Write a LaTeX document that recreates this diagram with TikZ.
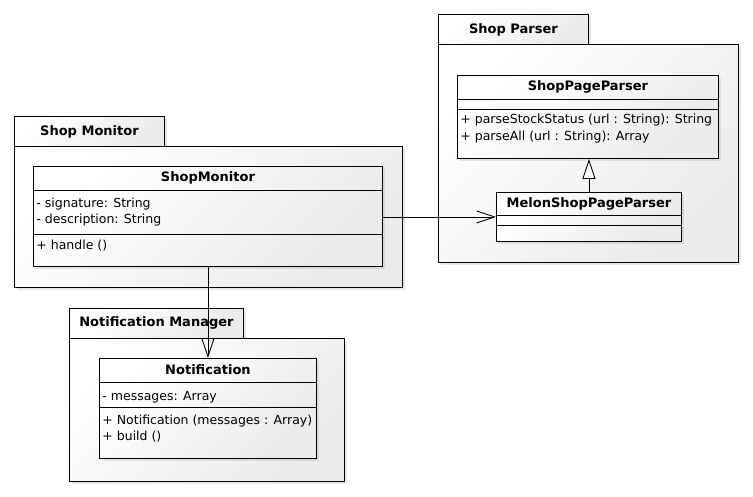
\documentclass[tikz,border=0pt]{standalone}
\usepackage{fontspec}
\setmainfont{DejaVu Sans}
\usetikzlibrary{arrows.meta,shadows}

\begin{document}
\begin{tikzpicture}[x=1pt,y=-1pt,line width=0.9pt,
  font=\fontsize{12.5}{16}\selectfont,
  box/.style n args={2}{draw,minimum width=#1,minimum height=#2,inner sep=0pt,
    anchor=north west,top color=white,bottom color=black!8,shading angle=45,
    drop shadow={shadow xshift=3pt,shadow yshift=-3pt,opacity=0.18}},
  head/.style={font=\fontsize{13}{16}\selectfont\bfseries},
  member/.style={anchor=base west,inner sep=0pt,xshift=3pt},
  dep/.style={-{Straight Barb[length=18pt,width=12pt]}},
  inherit/.style={-{Triangle[open,fill=white,length=20pt,width=13pt]}}]
  \useasboundingbox (0,0) rectangle (753,496);

  % packages
  \node[box={150pt}{30pt},head] (parsertab) at (438,14) {Shop Parser};
  \node[box={300pt}{218pt}] (parserpkg) at (438,44) {};
  \node[box={150pt}{30pt},head] (monitortab) at (14,116) {Shop Monitor};
  \node[box={388pt}{141pt}] (monitorpkg) at (14,146) {};
  \node[box={174pt}{30pt},head] (notiftab) at (69,308) {Notification Manager};
  \node[box={275pt}{143pt}] (notifpkg) at (69,338) {};

  % ShopPageParser
  \node[box={261pt}{83pt}] (pageparser) at (457,75) {};
  \node[head] (pageparsername) at (pageparser.north |- 0,87) {ShopPageParser};
  \draw (pageparser.west |- 0,99) -- (pageparser.east |- 0,99)
        (pageparser.west |- 0,109) -- (pageparser.east |- 0,109);
  \foreach \y/\t in {123/{+ parseStockStatus (url : String): String},
                     140/{+ parseAll (url : String): Array}}
    \node[member] at (pageparser.west |- 0,\y) {\t};

  % MelonShopPageParser
  \node[box={185pt}{49pt}] (melon) at (496,192) {};
  \node[head] (melonname) at (melon.north |- 0,203.5) {MelonShopPageParser};
  \draw (melon.west |- 0,215) -- (melon.east |- 0,215)
        (melon.west |- 0,225) -- (melon.east |- 0,225);

  % ShopMonitor
  \node[box={349pt}{100pt}] (monitor) at (33,166) {};
  \node[head] (monitorname) at (monitor.north |- 0,178) {ShopMonitor};
  \draw (monitor.west |- 0,190) -- (monitor.east |- 0,190)
        (monitor.west |- 0,234) -- (monitor.east |- 0,234);
  \foreach \y/\t in {207/{- signature: String},223/{- description: String},
                     249/{+ handle ()}}
    \node[member] at (monitor.west |- 0,\y) {\t};

  % Notification
  \node[box={217pt}{100pt}] (notif) at (99,358) {};
  \node[head] (notifname) at (notif.north |- 0,370) {Notification};
  \draw (notif.west |- 0,382) -- (notif.east |- 0,382)
        (notif.west |- 0,407) -- (notif.east |- 0,407);
  \foreach \y/\t in {400/{- messages: Array},
                     424/{+ Notification (messages : Array)},440/{+ build ()}}
    \node[member] at (notif.west |- 0,\y) {\t};

  % relations
  \draw[inherit] (melon.north) -- (melon.north |- pageparser.south);
  \draw[dep] (monitor.east |- melon.west) -- (melon.west);
  \draw[dep] (monitor.south) -- (notif.north);
\end{tikzpicture}
\end{document}
